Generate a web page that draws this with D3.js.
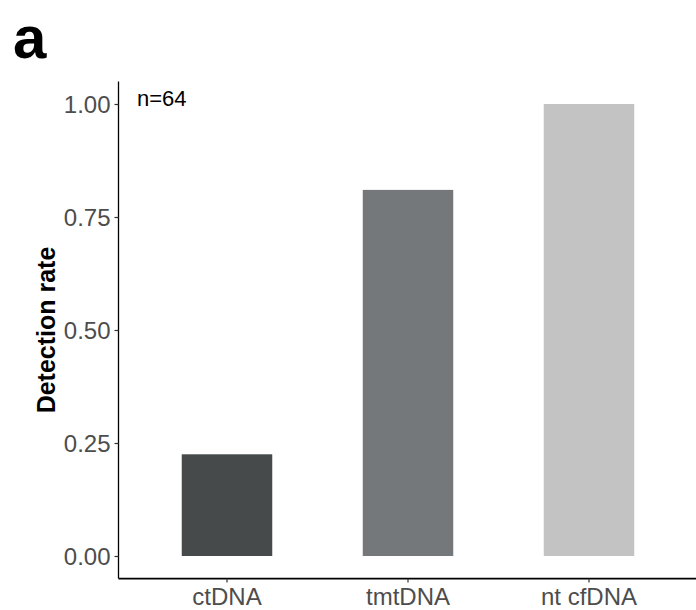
<!DOCTYPE html>
<html><head><meta charset="utf-8">
<script src="https://cdn.jsdelivr.net/npm/d3@7"></script>
<style>body{margin:0;background:#fff}svg{display:block;font-family:"Liberation Sans",Arial,Helvetica,sans-serif}</style>
</head><body>
<script>
const categories = ["ctDNA", "tmtDNA", "nt cfDNA"];
const values = [0.225, 0.81, 1.0];
const colors = ["#474a4b", "#75787b", "#c2c3c2"];
const yTicks = [0, 0.25, 0.5, 0.75, 1.0];

(function () {
const W = 696, H = 610;
const svg = d3.select("body").append("svg").attr("width", W).attr("height", H);
const mLeft = 118.5, mBottom = 578.6, mTop = 81.4;

const y = d3.scaleLinear().domain([-0.05, 1.05]).range([mBottom, mTop]);
const x = d3.scaleBand().domain(categories).range([118.4, 697.6]).paddingInner(0.5).paddingOuter(0.35);

svg.selectAll("rect.bar").data(categories).enter().append("rect")
  .attr("class", "bar")
  .attr("x", d => x(d)).attr("width", x.bandwidth())
  .attr("y", (d, i) => y(values[i])).attr("height", (d, i) => y(0) - y(values[i]))
  .attr("fill", (d, i) => colors[i]);

const yAxis = svg.append("g").attr("transform", `translate(${mLeft},0)`)
  .call(d3.axisLeft(y).tickValues(yTicks).tickFormat(d3.format(".2f")).tickSize(4).tickPadding(4));
yAxis.select(".domain").attr("d", `M0,${mTop}V${mBottom}`).attr("stroke", "#000").attr("stroke-width", 1.3);
yAxis.selectAll(".tick line").attr("stroke", "#333").attr("stroke-width", 1.2);
yAxis.selectAll(".tick text").attr("fill", "#4d4d4d").style("font-size", "24px").attr("dy", "0.36em");

const xAxis = svg.append("g").attr("transform", `translate(0,${mBottom})`)
  .call(d3.axisBottom(x).tickSize(4).tickPadding(4));
xAxis.select(".domain").attr("d", `M${mLeft},0H${W}`).attr("stroke", "#000").attr("stroke-width", 1.6);
xAxis.selectAll(".tick line").attr("stroke", "#333").attr("stroke-width", 1.2);
xAxis.selectAll(".tick text").attr("fill", "#4d4d4d").style("font-size", "24px").attr("y", 0).attr("dy", 0)
  .attr("transform", "translate(0,26)");

svg.append("text").attr("transform", `translate(55,${(mTop + mBottom) / 2}) rotate(-90)`)
  .attr("text-anchor", "middle").style("font-size", "25px").style("font-weight", "bold")
  .text("Detection rate");

svg.append("text").attr("x", 137).attr("y", 106).style("font-size", "22px").attr("fill", "#000").text("n=64");

svg.append("text").attr("x", 13).attr("y", 58).style("font-size", "60px").style("font-weight", "bold").text("a");
})();
</script>
</body></html>
